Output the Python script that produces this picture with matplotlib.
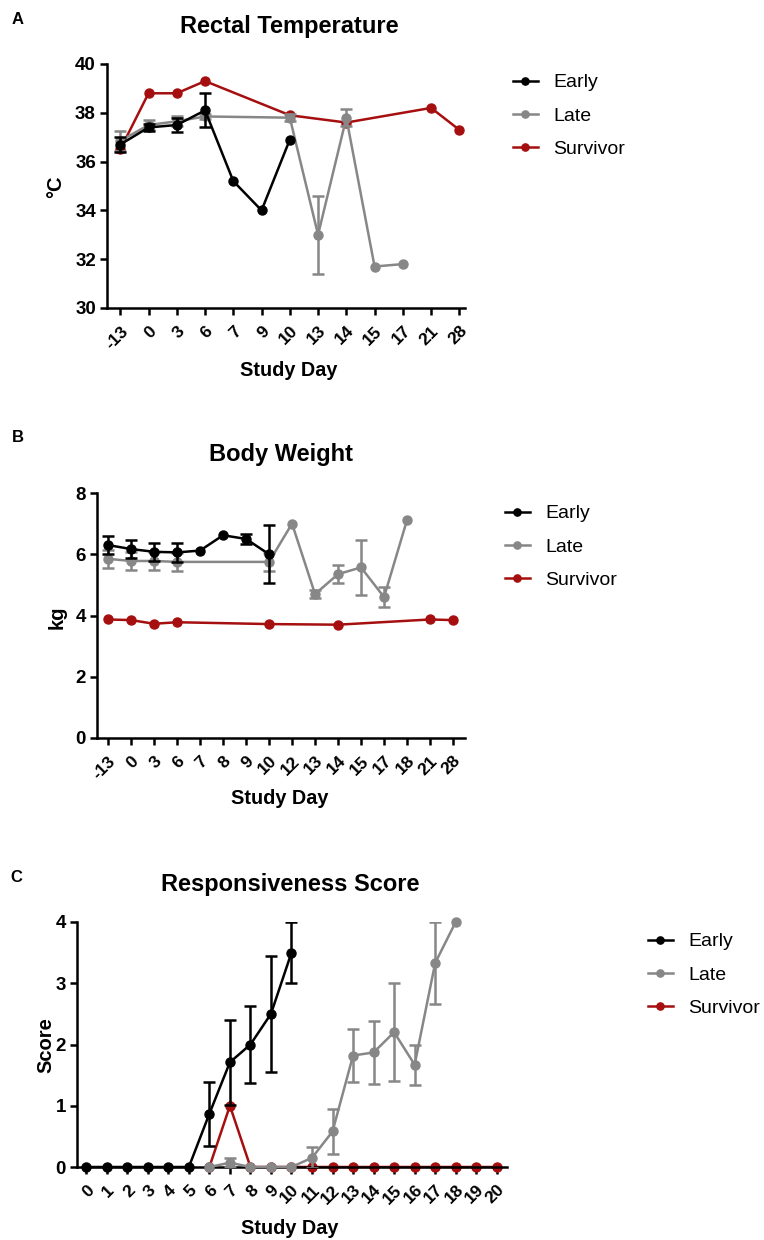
import matplotlib.pyplot as plt
import numpy as np

plt.rcParams['font.family'] = ['Liberation Sans', 'DejaVu Sans']

BLACK = '#000000'
GRAY = '#878787'
RED = '#a50f0f'

# ---- panel A: rectal temperature (categorical days)
temp_days = [-13, 0, 3, 6, 7, 9, 10, 13, 14, 15, 17, 21, 28]
temp_early_days = [-13, 0, 3, 6, 7, 9, 10]
temp_early = [36.7, 37.4, 37.5, 38.1, 35.2, 34.0, 36.9]
temp_early_err = [0.3, 0.15, 0.3, 0.7, 0, 0, 0]
temp_late_days = [-13, 0, 3, 6, 10, 13, 14, 15, 17]
temp_late = [36.85, 37.5, 37.65, 37.85, 37.8, 33.0, 37.8, 31.7, 31.8]
temp_late_err = [0.4, 0.2, 0.2, 0.1, 0.15, 1.6, 0.35, 0, 0]
temp_surv_days = [-13, 0, 3, 6, 10, 14, 21, 28]
temp_surv = [36.5, 38.8, 38.8, 39.3, 37.9, 37.6, 38.2, 37.3]

# ---- panel B: body weight (categorical days)
wt_days = [-13, 0, 3, 6, 7, 8, 9, 10, 12, 13, 14, 15, 17, 18, 21, 28]
wt_early_days = [-13, 0, 3, 6, 7, 8, 9, 10]
wt_early = [6.3, 6.17, 6.08, 6.06, 6.12, 6.62, 6.5, 6.0]
wt_early_err = [0.3, 0.3, 0.3, 0.3, 0, 0, 0.15, 0.95]
wt_late_days = [-13, 0, 3, 6, 10, 12, 13, 14, 15, 17, 18]
wt_late = [5.85, 5.78, 5.78, 5.75, 5.75, 7.0, 4.7, 5.35, 5.57, 4.6, 7.12]
wt_late_err = [0.3, 0.3, 0.3, 0.3, 0.3, 0, 0.12, 0.3, 0.9, 0.32, 0]
wt_surv_days = [-13, 0, 3, 6, 10, 14, 21, 28]
wt_surv = [3.87, 3.85, 3.73, 3.78, 3.72, 3.7, 3.87, 3.85]

# ---- panel C: responsiveness score (days 0-20)
sc_days = list(range(0, 21))
sc_early_days = [0, 1, 2, 3, 4, 5, 6, 7, 8, 9, 10]
sc_early = [0, 0, 0, 0, 0, 0, 0.87, 1.71, 2.0, 2.5, 3.5]
sc_early_err = [0, 0, 0, 0, 0, 0, 0.52, 0.69, 0.63, 0.95, 0.5]
sc_late_days = [6, 7, 8, 9, 10, 11, 12, 13, 14, 15, 16, 17, 18]
sc_late = [0, 0.07, 0, 0, 0, 0.15, 0.58, 1.82, 1.87, 2.2, 1.67, 3.33, 4.0]
sc_late_err = [0, 0.07, 0, 0, 0, 0.17, 0.36, 0.44, 0.52, 0.8, 0.33, 0.67, 0]
sc_surv_days = [6, 7, 8, 9, 10, 11, 12, 13, 14, 15, 16, 17, 18, 19, 20]
sc_surv = [0, 1.0, 0, 0, 0, 0, 0, 0, 0, 0, 0, 0, 0, 0, 0]

W, H = 764, 1240
fig = plt.figure(figsize=(W / 100, H / 100), dpi=100)


def px(x, y):
    return x / W, 1 - y / H


def add_axes(l, t, r, b):
    return fig.add_axes([l / W, 1 - b / H, (r - l) / W, (b - t) / H])


def series(ax, x, y, err, color, label, z):
    x = np.asarray(x, float)
    y = np.asarray(y, float)
    ax.plot(x, y, color=color, lw=1.8, marker='o', ms=6.5, label=label, zorder=z,
            clip_on=False)
    if err is not None:
        err = np.asarray(err, float)
        m = err > 0
        ax.errorbar(x[m], y[m], yerr=err[m], fmt='none', ecolor=color,
                    elinewidth=1.8, capsize=4, capthick=1.8, zorder=z)


def style(ax, ticks, labels, xlim, ylim, yticks):
    ax.set_xlim(*xlim)
    ax.set_ylim(*ylim)
    ax.set_xticks(ticks)
    ax.set_xticklabels(labels, rotation=45, ha='right', va='top',
                       rotation_mode='anchor', fontsize=12.5, fontweight='bold')
    ax.set_yticks(yticks)
    ax.set_yticklabels([str(v) for v in yticks], fontsize=13.5, fontweight='bold')
    for s in ['top', 'right']:
        ax.spines[s].set_visible(False)
    for s in ['left', 'bottom']:
        ax.spines[s].set_linewidth(1.8)
    ax.tick_params(direction='out', length=5, width=1.8, pad=3)
    ax.tick_params(axis='x', pad=6)


def legend(ax, x, y):
    h, l = ax.get_legend_handles_labels()
    ax.legend(h[::-1], l[::-1], loc='upper left', bbox_to_anchor=px(x, y),
              bbox_transform=fig.transFigure, frameon=False, fontsize=14,
              handlelength=1.3, labelspacing=0.8, handletextpad=0.8,
              borderaxespad=0, markerscale=0.8)


def idx(days, sub):
    return [days.index(d) for d in sub]


# A
axA = add_axes(107, 64, 465, 308)
series(axA, idx(temp_days, temp_surv_days), temp_surv, None, RED, 'Survivor', 2)
series(axA, idx(temp_days, temp_late_days), temp_late, temp_late_err, GRAY, 'Late', 3)
series(axA, idx(temp_days, temp_early_days), temp_early, temp_early_err, BLACK, 'Early', 4)
style(axA, range(len(temp_days)), [str(d) for d in temp_days], (-0.47, 12.2), (30, 40),
      [30, 32, 34, 36, 38, 40])
legend(axA, 505, 66)

# B
axB = add_axes(97, 493, 465, 738)
series(axB, idx(wt_days, wt_surv_days), wt_surv, None, RED, 'Survivor', 2)
series(axB, idx(wt_days, wt_late_days), wt_late, wt_late_err, GRAY, 'Late', 3)
series(axB, idx(wt_days, wt_early_days), wt_early, wt_early_err, BLACK, 'Early', 4)
style(axB, range(len(wt_days)), [str(d) for d in wt_days], (-0.48, 15.52), (0, 8),
      [0, 2, 4, 6, 8])
legend(axB, 497, 497)

# C
axC = add_axes(77, 922, 507, 1167)
series(axC, sc_surv_days, sc_surv, None, RED, 'Survivor', 2)
series(axC, sc_late_days, sc_late, sc_late_err, GRAY, 'Late', 3)
series(axC, sc_early_days, sc_early, sc_early_err, BLACK, 'Early', 4)
style(axC, sc_days, [str(d) for d in sc_days], (-0.45, 20.5), (0, 4), [0, 1, 2, 3, 4])
legend(axC, 640, 925)

# titles, labels, panel letters
for (x, y, s) in [(289, 26, 'Rectal Temperature'), (281, 455, 'Body Weight'),
                  (290, 885, 'Responsiveness Score')]:
    fig.text(*px(x, y), s, ha='center', va='center', fontsize=17, fontweight='bold')
for (x, y, s) in [(289, 370, 'Study Day'), (280, 798, 'Study Day'), (290, 1228, 'Study Day')]:
    fig.text(*px(x, y), s, ha='center', va='center', fontsize=14.3, fontweight='bold')
for (x, y, s) in [(56, 187, '°C'), (57, 617, 'kg'), (46, 1045, 'Score')]:
    fig.text(*px(x, y), s, ha='center', va='center', rotation=90, fontsize=14.5,
             fontweight='bold')
for (x, y, s) in [(18, 20, 'A'), (18, 437, 'B'), (16, 878, 'C')]:
    fig.text(*px(x, y), s, ha='center', va='center', fontsize=12, fontweight='bold')

fig.savefig('out.png', dpi=100)
